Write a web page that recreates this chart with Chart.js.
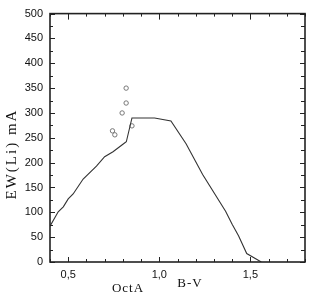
<!DOCTYPE html>
<html>
<head>
<meta charset="utf-8">
<script src="https://cdn.jsdelivr.net/npm/chart.js@4"></script>
<style>
  html, body { margin: 0; padding: 0; background: #fff; }
  #wrap { width: 311px; height: 297px; }
</style>
</head>
<body>
<div id="wrap"><canvas id="li-chart" width="311" height="297"></canvas></div>
<script>
// model curve, B-V vs EW(Li)
var curveBV = [0.40, 0.445, 0.473, 0.50, 0.527, 0.582, 0.655, 0.70, 0.746, 0.804, 0.819, 0.85, 0.974, 1.064, 1.147, 1.238, 1.364, 1.40, 1.435, 1.48, 1.56];
var curveEW = [72, 101, 111, 127, 137, 167, 193, 212, 222, 238, 242, 290, 290, 284, 238, 176, 102, 76, 53, 17, 0];

// observed stars (circles)
var starBV = [0.818, 0.818, 0.796, 0.743, 0.756, 0.85];
var starEW = [350, 320, 300, 264, 256, 274];

// axis ticks
var xLabelValues = [0.5, 1.0, 1.5];
var xLabelTexts = ['0,5', '1,0', '1,5'];
var yTickValues = [0, 50, 100, 150, 200, 250, 300, 350, 400, 450, 500];

var curvePts = curveBV.map(function (x, i) { return { x: x, y: curveEW[i] }; });
var starPts = starBV.map(function (x, i) { return { x: x, y: starEW[i] }; });

// frame, inward ticks on all four sides, axis titles
var framePlugin = {
  id: 'frame',
  afterDraw: function (chart) {
    var ctx = chart.ctx, a = chart.chartArea;
    var xs = chart.scales.x, ys = chart.scales.y;
    ctx.save();
    ctx.strokeStyle = '#222';
    ctx.lineWidth = 1;
    var v, px, major;
    for (var i = 4; i <= 18; i++) {
      v = i / 10;
      px = Math.round(xs.getPixelForValue(v)) + 0.5;
      major = (i % 5 === 0);
      ctx.beginPath();
      ctx.moveTo(px, a.bottom); ctx.lineTo(px, a.bottom - (major ? 5 : 3));
      ctx.moveTo(px, a.top); ctx.lineTo(px, a.top + (major ? 6 : 3));
      ctx.stroke();
    }
    for (var j = 0; j <= 20; j++) {
      v = j * 25;
      px = Math.round(ys.getPixelForValue(v)) + 0.5;
      major = (j % 2 === 0);
      ctx.beginPath();
      ctx.moveTo(a.left, px); ctx.lineTo(a.left + (major ? 5 : 3), px);
      ctx.moveTo(a.right, px); ctx.lineTo(a.right - (major ? 5 : 4), px);
      ctx.stroke();
    }
    ctx.lineWidth = 1.6;
    ctx.strokeRect(a.left, a.top, a.right - a.left, a.bottom - a.top);

    ctx.fillStyle = '#111';
    ctx.textAlign = 'center';
    ctx.textBaseline = 'middle';
    ctx.font = '15px "Liberation Serif", "DejaVu Serif", serif';
    ctx.letterSpacing = '2px';
    ctx.translate(12, 154);
    ctx.rotate(-Math.PI / 2);
    ctx.fillText('EW(Li) mA', 0, 0);
    ctx.setTransform(1, 0, 0, 1, 0, 0);
    ctx.font = '13px "Liberation Serif", "DejaVu Serif", serif';
    ctx.letterSpacing = '1px';
    ctx.fillText('B-V', 190, 284);
    ctx.fillText('OctA', 128, 289);
    ctx.restore();
  }
};

var ctx = document.getElementById('li-chart').getContext('2d');
var chart = new Chart(ctx, {
  type: 'scatter',
  data: {
    datasets: [{
      type: 'line',
      data: curvePts,
      borderColor: '#333',
      borderWidth: 1.1,
      pointRadius: 0,
      tension: 0,
      fill: false
    }, {
      type: 'scatter',
      data: starPts,
      pointStyle: 'circle',
      pointRadius: 2.2,
      borderColor: '#777',
      borderWidth: 1,
      backgroundColor: 'rgba(0,0,0,0)'
    }]
  },
  options: {
    responsive: false,
    animation: false,
    layout: { padding: { top: 6, right: 4, left: 0, bottom: 0 } },
    plugins: { legend: { display: false }, tooltip: { enabled: false } },
    scales: {
      x: {
        type: 'linear',
        min: 0.4, max: 1.8,
        grid: { display: false, drawTicks: false },
        border: { display: false },
        afterFit: function (s) { s.height = 35; },
        ticks: {
          stepSize: 0.1,
          autoSkip: false,
          maxRotation: 0,
          padding: 6,
          color: '#111',
          font: { family: '"Liberation Sans", Arial, sans-serif', size: 11 },
          callback: function (value) {
            for (var k = 0; k < xLabelValues.length; k++) {
              if (Math.abs(value - xLabelValues[k]) < 1e-6) return xLabelTexts[k];
            }
            return '';
          }
        }
      },
      y: {
        type: 'linear',
        min: 0, max: 500,
        grid: { display: false, drawTicks: false },
        border: { display: false },
        afterFit: function (s) { s.width = 50; },
        afterBuildTicks: function (s) {
          s.ticks = yTickValues.map(function (v) { return { value: v }; });
        },
        ticks: {
          padding: 7,
          color: '#111',
          font: { family: '"Liberation Sans", Arial, sans-serif', size: 11 }
        }
      }
    }
  },
  plugins: [framePlugin]
});
</script>
</body>
</html>
